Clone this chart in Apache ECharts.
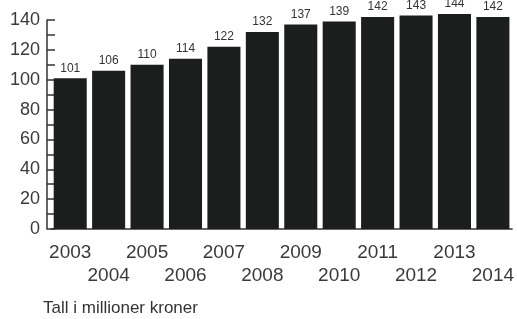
<!DOCTYPE html>
<html><head><meta charset="utf-8">
<script src="https://cdn.jsdelivr.net/npm/echarts@6/dist/echarts.min.js"></script>
<style>html,body{margin:0;padding:0;background:#fff}#c{width:517px;height:319px}</style>
</head><body><div id="c"></div>
<script>
const years = ['2003','2004','2005','2006','2007','2008','2009','2010','2011','2012','2013','2014'];
const values = [101,106,110,114,122,132,137,139,142,143,144,142];
const yTicks = [0,20,40,60,80,100,120,140];
const caption = 'Tall i millioner kroner';

const chart = echarts.init(document.getElementById('c'), null, {renderer:'canvas'});
chart.setOption({
  backgroundColor:'#ffffff',
  animation:false,
  grid:{left:51, right:4, top:20, bottom:90},
  xAxis:{
    type:'category', data:years,
    axisLine:{show:true, lineStyle:{color:'#333', width:1.5}},
    axisTick:{show:false},
    axisLabel:{
      interval:0, fontFamily:'Liberation Sans, Arial', fontSize:19, color:'#3a3a3a',
      margin:12, lineHeight:23,
      formatter:(v,i)=> i%2 ? '\n'+v : v
    }
  },
  yAxis:{
    type:'value', min:yTicks[0], max:yTicks[yTicks.length-1], interval:20, offset:4,
    axisLine:{show:true, lineStyle:{color:'#333', width:1.5}},
    axisTick:{show:true, inside:true, length:8, lineStyle:{color:'#333', width:1.5}},
    minorTick:{show:true, splitNumber:2, length:8, lineStyle:{color:'#333', width:1.5}},
    splitLine:{show:false},
    axisLabel:{fontFamily:'Liberation Sans, Arial', fontSize:18, color:'#3a3a3a', margin:7}
  },
  series:[{
    type:'bar', data:values, barCategoryGap:'14%', clip:false,
    itemStyle:{color:'#1c1e1e'},
    label:{show:true, position:'top', distance:4, fontFamily:'Liberation Sans, Arial', fontSize:12, color:'#333'}
  }],
  graphic:[{type:'text', left:43, top:300, style:{text:caption, font:'17px "Liberation Sans", Arial', fill:'#333'}}]
});
</script></body></html>
